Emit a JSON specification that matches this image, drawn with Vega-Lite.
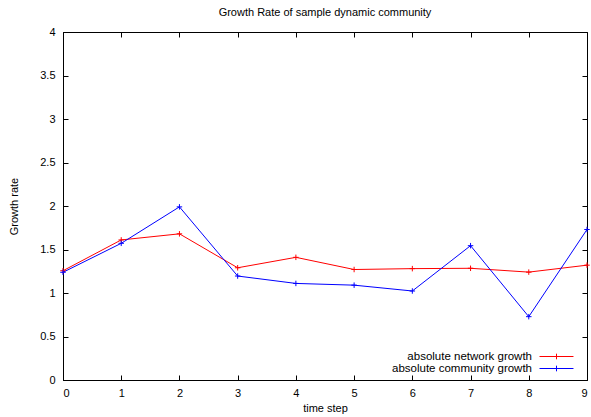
{
  "$schema": "https://vega.github.io/schema/vega-lite/v6.json",
  "width": 524,
  "height": 348,
  "autosize": {"type": "none"},
  "padding": {"left": 63, "top": 32, "right": 4, "bottom": 37},
  "background": "white",
  "title": {"text": "Growth Rate of sample dynamic community", "fontSize": 11, "font": "Liberation Sans", "fontWeight": "normal", "color": "black", "offset": 8},
  "config": {
    "view": {"stroke": "black", "strokeWidth": 1},
    "font": "Liberation Sans",
    "axis": {"grid": false, "domainColor": "black", "tickColor": "black", "tickSize": -5, "labelColor": "black", "labelFontSize": 11, "titleFontSize": 11, "titleFontWeight": "normal", "titleColor": "black", "labelFont": "Liberation Sans", "titleFont": "Liberation Sans"},
    "legend": {"labelFontSize": 11.5, "labelFont": "Liberation Sans", "labelColor": "black"}
  },
  "data": {"values": [
    {"step": 0, "rate": 1.256, "series": "absolute network growth"},
    {"step": 1, "rate": 1.61, "series": "absolute network growth"},
    {"step": 2, "rate": 1.68, "series": "absolute network growth"},
    {"step": 3, "rate": 1.29, "series": "absolute network growth"},
    {"step": 4, "rate": 1.41, "series": "absolute network growth"},
    {"step": 5, "rate": 1.27, "series": "absolute network growth"},
    {"step": 6, "rate": 1.28, "series": "absolute network growth"},
    {"step": 7, "rate": 1.284, "series": "absolute network growth"},
    {"step": 8, "rate": 1.24, "series": "absolute network growth"},
    {"step": 9, "rate": 1.32, "series": "absolute network growth"},
    {"step": 0, "rate": 1.238, "series": "absolute community growth"},
    {"step": 1, "rate": 1.571, "series": "absolute community growth"},
    {"step": 2, "rate": 1.99, "series": "absolute community growth"},
    {"step": 3, "rate": 1.195, "series": "absolute community growth"},
    {"step": 4, "rate": 1.11, "series": "absolute community growth"},
    {"step": 5, "rate": 1.09, "series": "absolute community growth"},
    {"step": 6, "rate": 1.023, "series": "absolute community growth"},
    {"step": 7, "rate": 1.544, "series": "absolute community growth"},
    {"step": 8, "rate": 0.728, "series": "absolute community growth"},
    {"step": 9, "rate": 1.73, "series": "absolute community growth"}
  ]},
  "resolve": {"axis": {"x": "independent", "y": "independent"}},
  "layer": [
    {
      "mark": {"type": "line", "strokeWidth": 1, "clip": true},
      "encoding": {
        "x": {"field": "step", "type": "quantitative", "scale": {"domain": [0, 9], "nice": false, "zero": false}, "axis": {"orient": "bottom", "title": "time step", "values": [0,1,2,3,4,5,6,7,8,9], "labelPadding": 12, "titlePadding": 4}},
        "y": {"field": "rate", "type": "quantitative", "scale": {"domain": [0, 4], "nice": false}, "axis": {"orient": "left", "title": "Growth rate", "values": [0,0.5,1,1.5,2,2.5,3,3.5,4], "format": "~g", "labelPadding": 13, "titlePadding": 20}},
        "color": {"field": "series", "type": "nominal", "scale": {"domain": ["absolute network growth", "absolute community growth"], "range": ["#ff0000", "#0000ff"]}, "legend": {"title": null, "orient": "none", "legendX": 487, "legendY": 318, "symbolType": "M-3,0H3M0,-0.5V0.5", "symbolSize": 128, "symbolStrokeWidth": 1, "rowPadding": 0, "labelOffset": -31, "labelAlign": "right", "symbolOffset": 0}}
      }
    },
    {
      "mark": {"type": "point", "shape": "M-1,0H1M0,-1V1", "filled": false, "size": 30, "strokeWidth": 1, "opacity": 1},
      "encoding": {
        "x": {"field": "step", "type": "quantitative", "axis": {"orient": "top", "labels": false, "title": null, "domain": false, "values": [0,1,2,3,4,5,6,7,8,9]}},
        "y": {"field": "rate", "type": "quantitative", "axis": {"orient": "right", "labels": false, "title": null, "domain": false, "values": [0,0.5,1,1.5,2,2.5,3,3.5,4]}},
        "color": {"field": "series", "type": "nominal"}
      }
    }
  ]
}
